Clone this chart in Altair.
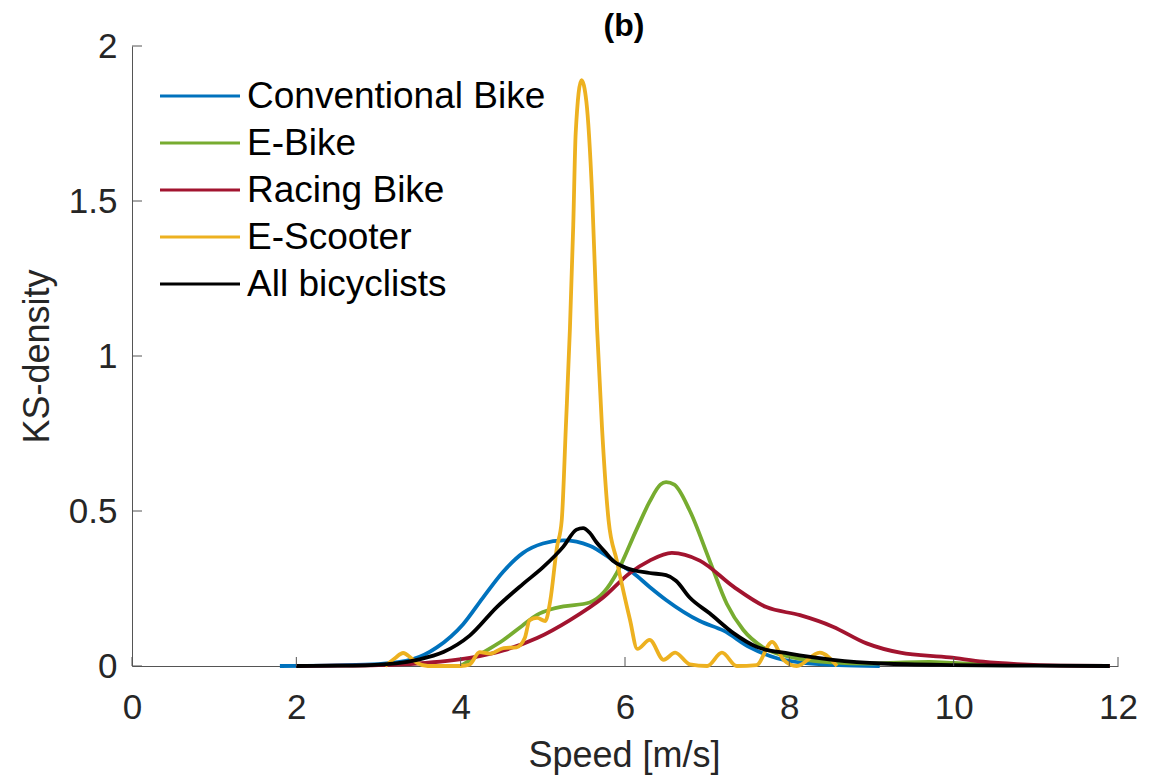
import altair as alt
import pandas as pd

# ---------------- data ----------------
series_names = ["Conventional Bike", "E-Bike", "Racing Bike", "E-Scooter", "All bicyclists"]
series_colors = ["#0072BD", "#77AC30", "#A2142F", "#EDB120", "#000000"]
chart_title = "(b)"
x_title = "Speed [m/s]"
y_title = "KS-density"
x_ticks = [0, 2, 4, 6, 8, 10, 12]
y_ticks = [0, 0.5, 1, 1.5, 2]

conv_x = [1.8, 2.5, 3.0, 3.42, 3.71, 4.03, 4.27, 4.52, 4.76, 5.0, 5.25, 5.57, 5.9, 6.1, 6.3, 6.5,
          6.91, 7.2, 7.52, 7.85, 8.17, 8.6, 9.1]
conv_y = [0, 0.002, 0.006, 0.022, 0.06, 0.135, 0.22, 0.305, 0.365, 0.395, 0.405, 0.388, 0.333, 0.30,
          0.255, 0.213, 0.145, 0.114, 0.06, 0.025, 0.01, 0.003, 0]

ebike_x = [4.0, 4.25, 4.52, 4.75, 4.93, 5.1, 5.25, 5.57, 5.75, 5.9, 6.14, 6.3, 6.43, 6.5, 6.6, 6.79,
           7.03, 7.24, 7.44, 7.68, 8.0, 8.5, 9.0, 9.4, 9.7, 10.0, 10.5]
ebike_y = [0, 0.04, 0.084, 0.13, 0.165, 0.183, 0.192, 0.205, 0.24, 0.30, 0.44, 0.53, 0.585, 0.593,
           0.585, 0.50, 0.34, 0.20, 0.116, 0.06, 0.03, 0.012, 0.008, 0.012, 0.013, 0.01, 0.003]

racing_x = [2.0, 2.5, 3.0, 3.47, 4.11, 4.52, 4.93, 5.33, 5.73, 6.06, 6.3, 6.57, 6.91, 7.32, 7.72, 8.13,
            8.53, 8.94, 9.35, 9.95, 10.36, 10.77, 11.3, 11.9]
racing_y = [0, 0.001, 0.003, 0.008, 0.026, 0.05, 0.09, 0.148, 0.22, 0.30, 0.34, 0.365, 0.34, 0.256,
            0.19, 0.164, 0.127, 0.073, 0.043, 0.028, 0.014, 0.006, 0.001, 0]

scooter_x = [3.08, 3.2, 3.3, 3.4, 3.47, 3.6, 4.0, 4.11, 4.23, 4.36, 4.52, 4.68, 4.78, 4.84, 4.93, 5.03,
             5.09, 5.17, 5.23, 5.28, 5.33, 5.37, 5.40, 5.47, 5.53, 5.6, 5.66, 5.72, 5.8, 5.9, 6.06,
             6.15, 6.3, 6.47, 6.61, 6.79, 7.0, 7.18, 7.36, 7.6, 7.79, 7.93, 8.09, 8.37, 8.58]
scooter_y = [0, 0.025, 0.042, 0.025, 0.01, 0, 0, 0.005, 0.045, 0.04, 0.058, 0.06, 0.09, 0.148, 0.155,
             0.145, 0.21, 0.38, 0.47, 0.77, 1.09, 1.42, 1.72, 1.89, 1.82, 1.52, 1.09, 0.77, 0.47, 0.34,
             0.15, 0.055, 0.084, 0.02, 0.043, 0.005, 0, 0.043, 0, 0.003, 0.078, 0.02, 0, 0.043, 0]

all_x = [2.0, 2.5, 2.9, 3.47, 3.79, 4.11, 4.44, 4.76, 5.0, 5.25, 5.41, 5.49, 5.57, 5.65, 5.75, 5.85,
         6.0, 6.3, 6.5, 6.62, 6.79, 7.03, 7.32, 7.6, 8.0, 8.53, 9.14, 10.0, 11.0, 11.9]
all_y = [0, 0.001, 0.003, 0.02, 0.045, 0.098, 0.19, 0.265, 0.318, 0.385, 0.44, 0.445, 0.43, 0.40, 0.37,
         0.34, 0.318, 0.30, 0.293, 0.275, 0.22, 0.17, 0.106, 0.062, 0.04, 0.02, 0.008, 0.003, 0.001, 0]

series_x = [conv_x, ebike_x, racing_x, scooter_x, all_x]
series_y = [conv_y, ebike_y, racing_y, scooter_y, all_y]

frames = []
for name, xs, ys in zip(series_names, series_x, series_y):
    frames.append(pd.DataFrame({"speed": xs, "density": ys, "series": name}))
df = pd.concat(frames, ignore_index=True)

# ---------------- chart ----------------
FONT = "Liberation Sans"
W, H = 986, 620
AXIS_COLOR = "#555555"
TEXT_COLOR = "#262626"

x_scale = alt.Scale(domain=[0, 12], nice=False, zero=False)
y_scale = alt.Scale(domain=[0, 2], nice=False, zero=False)
color_scale = alt.Scale(domain=series_names, range=series_colors)

x_axis = alt.Axis(title=x_title, values=x_ticks, format="d", tickSize=0, grid=False,
                  labelFontSize=35, labelFont=FONT, labelColor=TEXT_COLOR, labelPadding=24,
                  labelFlush=False, labelOverlap=False,
                  domainColor=AXIS_COLOR, domainWidth=1,
                  titleFont=FONT, titleFontSize=36, titleFontWeight="normal", titleColor=TEXT_COLOR,
                  titleX=W / 2 - 1, titleY=100, titleBaseline="alphabetic")
y_axis = alt.Axis(title=y_title, values=y_ticks, format="~g", tickSize=0, grid=False,
                  labelFontSize=35, labelFont=FONT, labelColor=TEXT_COLOR, labelPadding=15,
                  labelFlush=False, labelOverlap=False,
                  domainColor=AXIS_COLOR, domainWidth=1,
                  titleFont=FONT, titleFontSize=36, titleFontWeight="normal", titleColor=TEXT_COLOR,
                  titleX=-95, titleY=H / 2, titleBaseline="middle", titleAngle=270)

line_layers = []
for name in series_names:
    line_layers.append(
        alt.Chart(df).transform_filter(alt.datum.series == name)
        .mark_line(strokeWidth=3.8, interpolate="monotone")
        .encode(
            x=alt.X("speed:Q", scale=x_scale, axis=x_axis),
            y=alt.Y("density:Q", scale=y_scale, axis=y_axis),
            color=alt.Color("series:N", scale=color_scale, legend=None),
        )
    )

ytick_layer = alt.Chart(pd.DataFrame({"v": y_ticks})).mark_rule(color=AXIS_COLOR, strokeWidth=1).encode(
    y=alt.Y("v:Q", scale=y_scale, axis=y_axis),
    x=alt.value(0), x2=alt.value(10),
)
xtick_layer = alt.Chart(pd.DataFrame({"v": x_ticks})).mark_rule(color=AXIS_COLOR, strokeWidth=1).encode(
    x=alt.X("v:Q", scale=x_scale, axis=x_axis),
    y=alt.value(H), y2=alt.value(H - 9),
)

main = alt.layer(*line_layers, ytick_layer, xtick_layer)

legend_df = pd.DataFrame({"series": series_names})
leg_y = alt.Y("series:N", sort=series_names,
              scale=alt.Scale(type="point", domain=series_names, range=[50, 238], padding=0),
              axis=None)
leg_rule = alt.Chart(legend_df).mark_rule(strokeWidth=3).encode(
    y=leg_y, x=alt.value(28), x2=alt.value(108),
    color=alt.Color("series:N", scale=color_scale, legend=None),
)
leg_text = alt.Chart(legend_df).mark_text(font=FONT, fontSize=37, align="left", baseline="middle",
                                          color="black", dy=1).encode(
    y=leg_y, x=alt.value(115), text="series:N",
)
legend = alt.layer(leg_rule, leg_text)

title_layer = alt.Chart(pd.DataFrame({"t": [chart_title]})).mark_text(
    font=FONT, fontSize=32, fontWeight="bold", align="center", baseline="alphabetic", color="black"
).encode(text="t:N", x=alt.value(W / 2 - 1), y=alt.value(-10))

chart = (
    alt.layer(main, legend, title_layer)
    .resolve_scale(y="independent")
    .properties(width=W, height=H,
                padding={"left": 132, "top": 46, "right": 47, "bottom": 109},
                autosize=alt.AutoSizeParams(type="none"),
                background="white")
    .configure_view(stroke=None)
)

chart.save("out.html", embed_options={"renderer": "svg", "actions": False})
